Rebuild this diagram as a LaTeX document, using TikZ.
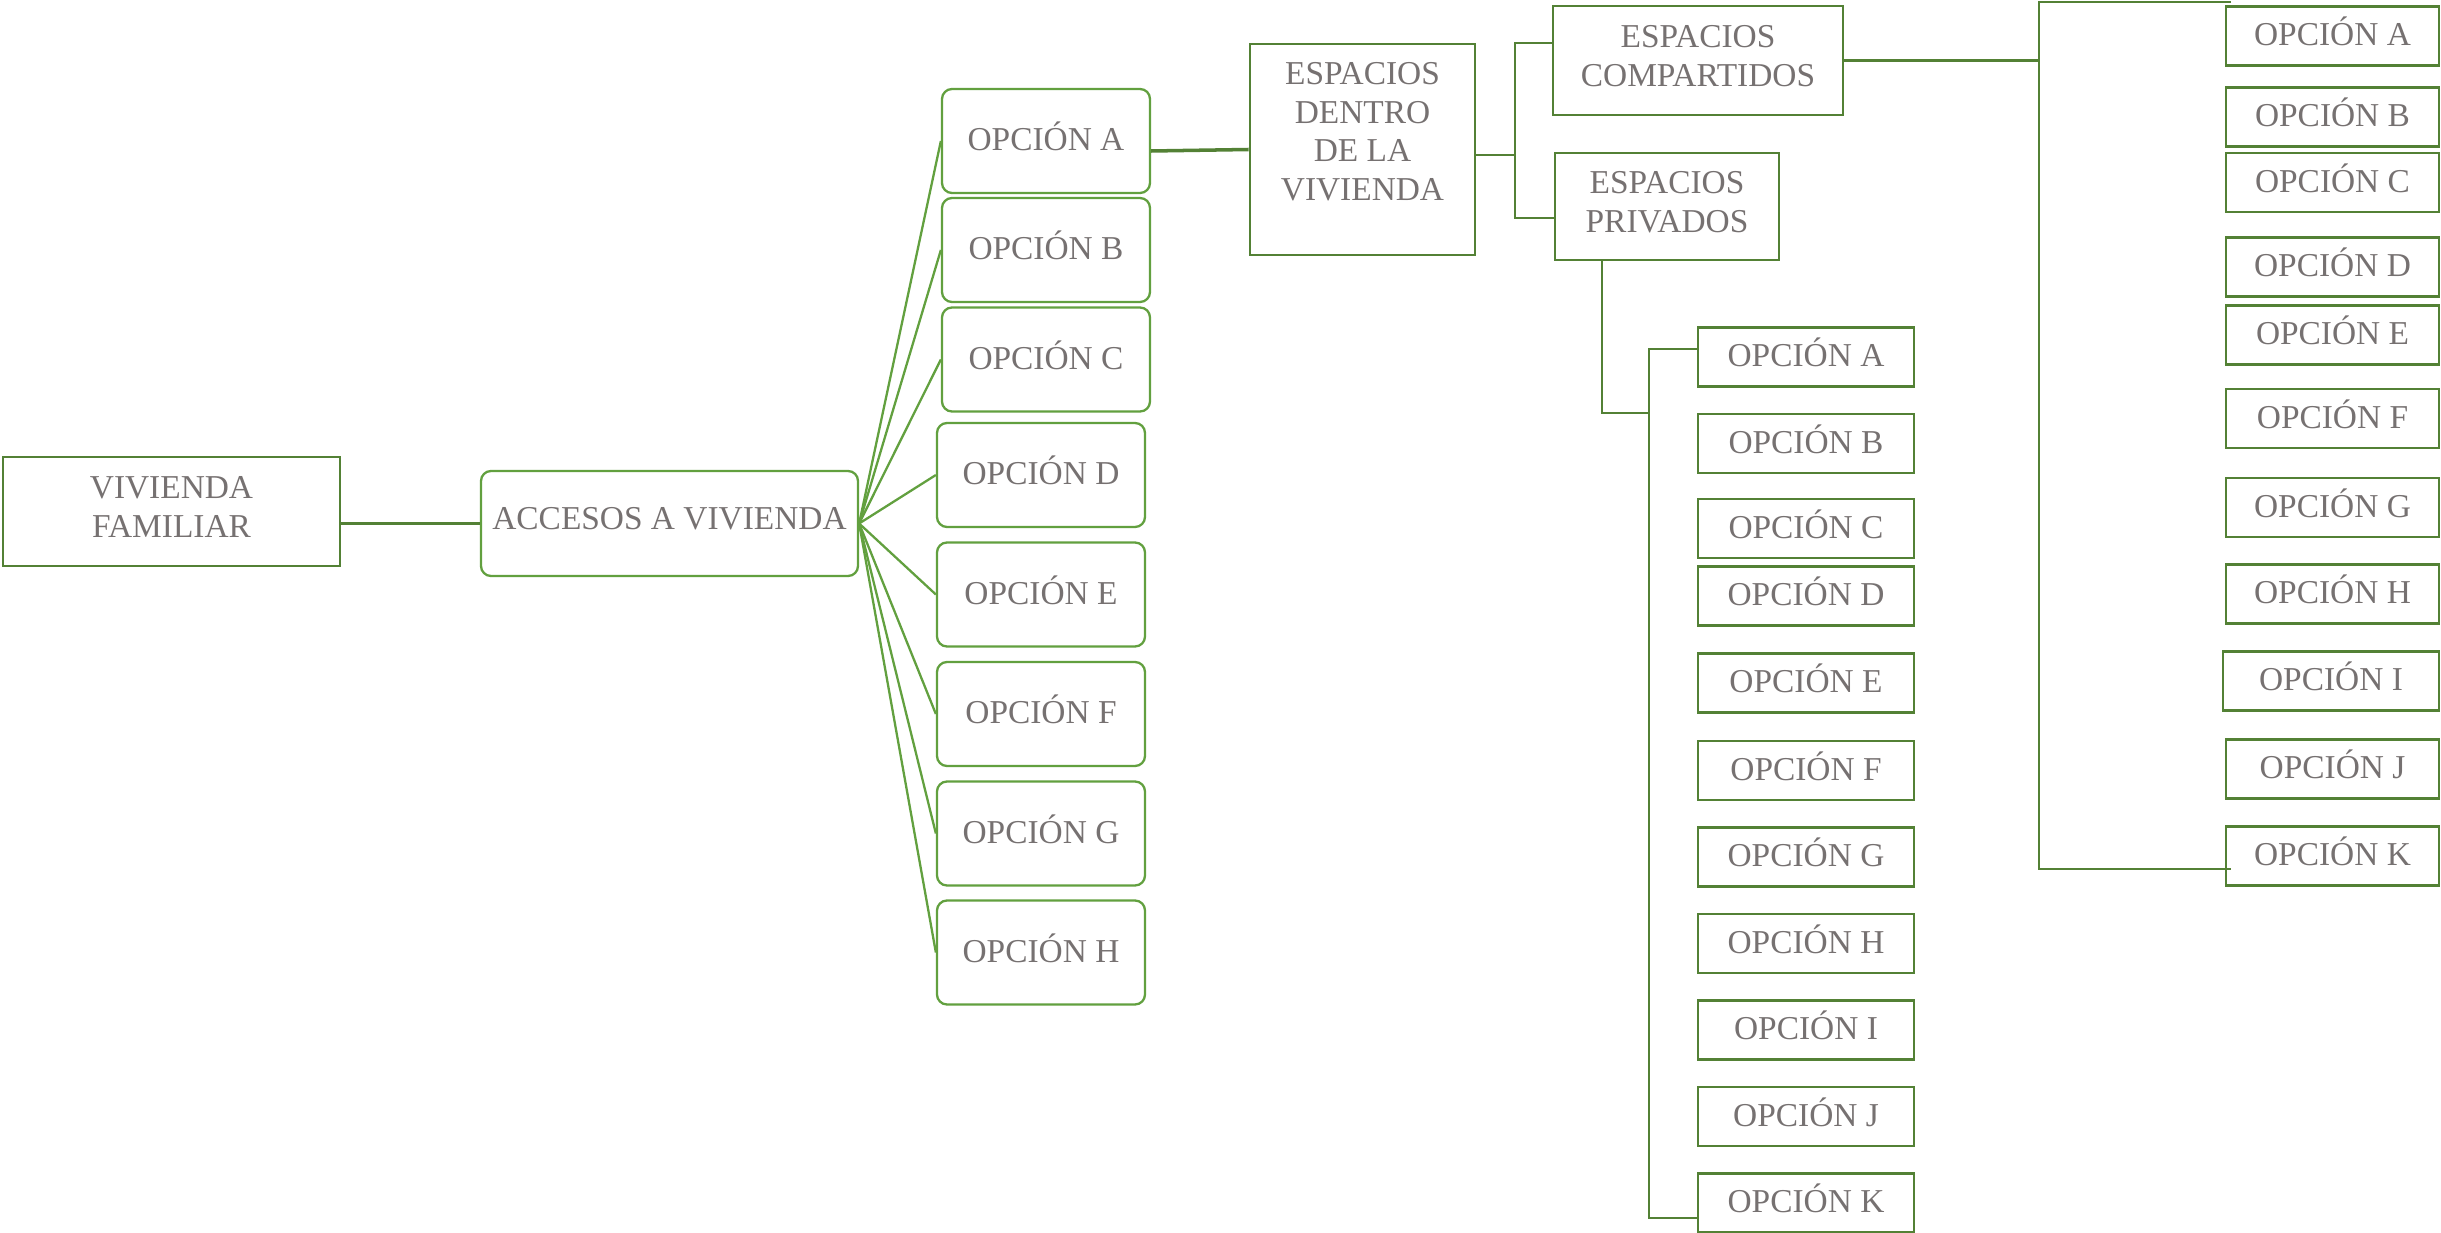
\documentclass[tikz,border=0pt]{standalone}
\usepackage{fontspec}
\setmainfont{Liberation Serif}
\usepackage{xcolor}
\usepackage{tikz}
\definecolor{vgreen}{HTML}{538135}
\definecolor{vleaf}{HTML}{62A03F}
\definecolor{vgrey}{HTML}{767171}
\begin{document}
\begin{tikzpicture}[x=1cm,y=1cm,
  every node/.style={text=vgrey,font=\fontsize{9.5}{11}\selectfont,inner sep=0pt,align=center,text depth=2.6pt},
  sqbox/.style={draw=vgreen,line width=0.75pt},
  rbox/.style={draw=vleaf,line width=0.65pt,rounded corners=0.1cm,minimum width=2.08cm,minimum height=1.04cm},
  optbox/.style={sqbox,minimum width=2.16cm,minimum height=0.59cm},
  link/.style={draw=vgreen,line width=0.65pt}]
  \useasboundingbox (0,0) rectangle (24.41,-12.33);
  \node[sqbox,minimum width=3.37cm,minimum height=1.09cm] (vf) at (1.715,-5.115) {VIVIENDA\\FAMILIAR};
  \node[rbox,minimum width=3.77cm,minimum height=1.05cm] (acc) at (6.695,-5.235) {ACCESOS A VIVIENDA};
  \node[rbox] (la) at (10.46,-1.41) {OPCIÓN A};
  \node[rbox] (lb) at (10.46,-2.50) {OPCIÓN B};
  \node[rbox] (lc) at (10.46,-3.595) {OPCIÓN C};
  \node[rbox] (ld) at (10.41,-4.75) {OPCIÓN D};
  \node[rbox] (le) at (10.41,-5.945) {OPCIÓN E};
  \node[rbox] (lf) at (10.41,-7.14) {OPCIÓN F};
  \node[rbox] (lg) at (10.41,-8.335) {OPCIÓN G};
  \node[rbox] (lh) at (10.41,-9.525) {OPCIÓN H};
  \node[sqbox,minimum width=2.25cm,minimum height=2.11cm,text depth=0.36cm] (dentro) at (13.625,-1.495) {ESPACIOS\\DENTRO\\DE LA\\VIVIENDA};
  \node[sqbox,minimum width=2.90cm,minimum height=1.09cm] (comp) at (16.98,-0.605) {ESPACIOS\\COMPARTIDOS};
  \node[sqbox,minimum width=2.24cm,minimum height=1.07cm] (priv) at (16.67,-2.065) {ESPACIOS\\PRIVADOS};
  \node[optbox] (ma) at (18.06,-3.57) {OPCIÓN A};
  \node[optbox] (mb) at (18.06,-4.435) {OPCIÓN B};
  \node[optbox] (mc) at (18.06,-5.285) {OPCIÓN C};
  \node[optbox] (md) at (18.06,-5.96) {OPCIÓN D};
  \node[optbox] (me) at (18.06,-6.83) {OPCIÓN E};
  \node[optbox] (mf) at (18.06,-7.705) {OPCIÓN F};
  \node[optbox] (mg) at (18.06,-8.57) {OPCIÓN G};
  \node[optbox] (mh) at (18.06,-9.435) {OPCIÓN H};
  \node[optbox] (mi) at (18.06,-10.30) {OPCIÓN I};
  \node[optbox] (mj) at (18.06,-11.165) {OPCIÓN J};
  \node[optbox] (mk) at (18.06,-12.03) {OPCIÓN K};
  \node[optbox,minimum width=2.13cm] (ra) at (23.325,-0.36) {OPCIÓN A};
  \node[optbox,minimum width=2.13cm] (rb) at (23.325,-1.17) {OPCIÓN B};
  \node[optbox,minimum width=2.13cm] (rc) at (23.325,-1.825) {OPCIÓN C};
  \node[optbox,minimum width=2.13cm] (rd) at (23.325,-2.67) {OPCIÓN D};
  \node[optbox,minimum width=2.13cm] (re) at (23.325,-3.35) {OPCIÓN E};
  \node[optbox,minimum width=2.13cm] (rf) at (23.325,-4.185) {OPCIÓN F};
  \node[optbox,minimum width=2.13cm] (rg) at (23.325,-5.075) {OPCIÓN G};
  \node[optbox,minimum width=2.13cm] (rh) at (23.325,-5.94) {OPCIÓN H};
  \node[optbox] (ri) at (23.31,-6.81) {OPCIÓN I};
  \node[optbox,minimum width=2.13cm] (rj) at (23.325,-7.69) {OPCIÓN J};
  \node[optbox,minimum width=2.13cm] (rk) at (23.325,-8.56) {OPCIÓN K};
  \coordinate (dj) at (15.15,-1.55);
  \coordinate (ctop) at (20.39,-0.02);
  \coordinate (ctopend) at (22.31,-0.02);
  \coordinate (cbot) at (20.39,-8.69);
  \coordinate (cbotend) at (22.31,-8.69);
  \coordinate (pdrop) at (16.02,-4.13);
  \coordinate (mtop) at (16.49,-3.49);
  \coordinate (mbot) at (16.49,-12.18);
  \draw[link,line width=1pt] (vf.east |- acc.west) -- (acc.west);
  \draw[link,draw=vleaf] (acc.east) -- (la.west);
  \draw[link,draw=vleaf] (acc.east) -- (lb.west);
  \draw[link,draw=vleaf] (acc.east) -- (lc.west);
  \draw[link,draw=vleaf] (acc.east) -- (ld.west);
  \draw[link,draw=vleaf] (acc.east) -- (le.west);
  \draw[link,draw=vleaf] (acc.east) -- (lf.west);
  \draw[link,draw=vleaf] (acc.east) -- (lg.west);
  \draw[link,draw=vleaf] (acc.east) -- (lh.west);
  \draw[link,line width=1pt] ([yshift=-1mm]la.east) -- (dentro.west);
  \draw[link] (dentro.east |- dj) -- (dj);
  \draw[link] ([yshift=1.75mm]comp.west) -| (dj) |- ([yshift=-1.15mm]priv.west);
  \draw[link] (comp.east) -- (comp.east -| ctop);
  \draw[link] (ctopend) -- (ctop) -- (cbot) -- (cbotend);
  \draw[link] (priv.south -| pdrop) -- (pdrop) -- (pdrop -| mtop);
  \draw[link] (ma.west |- mtop) -- (mtop) -- (mbot) -- (mk.west |- mbot);
\end{tikzpicture}
\end{document}
